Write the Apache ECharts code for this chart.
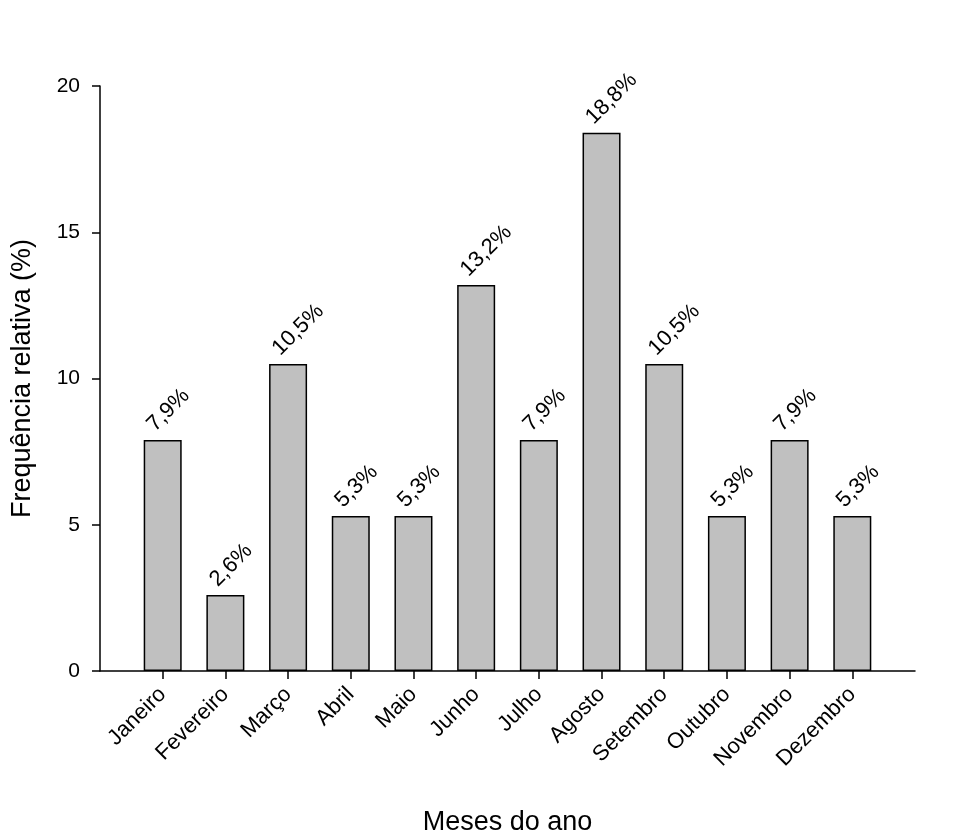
<!DOCTYPE html>
<html>
<head>
<meta charset="utf-8">
<script src="https://cdn.jsdelivr.net/npm/echarts@6/dist/echarts.min.js"></script>
<style>html,body{margin:0;padding:0;background:#fff}#c{width:960px;height:840px}</style>
</head>
<body>
<div id="c"></div>
<script>
const months = ['Janeiro','Fevereiro','Março','Abril','Maio','Junho','Julho','Agosto','Setembro','Outubro','Novembro','Dezembro'];
const positions = [1,2,3,4,5,6,7,8,9,10,11,12];
const values = [7.9, 2.6, 10.5, 5.3, 5.3, 13.2, 7.9, 18.4, 10.5, 5.3, 7.9, 5.3];
const labels = ['7,9%','2,6%','10,5%','5,3%','5,3%','13,2%','7,9%','18,8%','10,5%','5,3%','7,9%','5,3%'];
const yTicks = [0,5,10,15,20];

const font = "'Liberation Sans', Arial, sans-serif";
const chart = echarts.init(document.getElementById('c'));
chart.setOption({
  backgroundColor: '#fff',
  animation: false,
  grid: {left: 100, right: 45, top: 86, bottom: 169, containLabel: false, outerBoundsMode: 'none'},
  xAxis: {
    type: 'value', min: 0, max: 13, interval: 1,
    name: 'Meses do ano', nameLocation: 'middle', nameGap: 138, nameMoveOverlap: false,
    nameTextStyle: {fontFamily: font, fontSize: 27, color: '#000'},
    splitLine: {show: false},
    axisLine: {show: true, onZero: false, lineStyle: {color: '#000', width: 1.5}},
    axisTick: {show: true, length: 8, customValues: positions, lineStyle: {color: '#000', width: 1.5}},
    axisLabel: {
      customValues: positions, rotate: 45, margin: 20,
      fontFamily: font, fontSize: 22, color: '#000',
      formatter: v => months[Math.round(v) - 1] || ''
    }
  },
  yAxis: {
    type: 'value', min: 0, max: 20, interval: 5,
    name: 'Frequência relativa (%)', nameLocation: 'middle', nameGap: 64, nameMoveOverlap: false,
    nameTextStyle: {fontFamily: font, fontSize: 27, color: '#000'},
    splitLine: {show: false},
    axisLine: {show: true, lineStyle: {color: '#000', width: 1.5}},
    axisTick: {show: true, length: 8, customValues: yTicks, lineStyle: {color: '#000', width: 1.5}},
    axisLabel: {customValues: yTicks, margin: 20, fontFamily: font, fontSize: 21, color: '#000'}
  },
  series: [{
    type: 'bar',
    barWidth: 38,
    data: positions.map((p, i) => [p, values[i]]),
    itemStyle: {color: '#c0c0c0', borderColor: '#000', borderWidth: 1.5},
    label: {
      show: true, position: [7, -12], rotate: 45, align: 'left', verticalAlign: 'middle',
      fontFamily: font, fontSize: 22, color: '#000',
      formatter: p => labels[p.dataIndex]
    }
  }]
});
</script>
</body>
</html>
